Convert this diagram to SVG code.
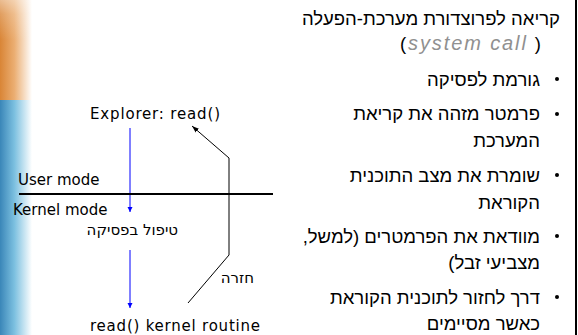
<svg xmlns="http://www.w3.org/2000/svg" width="578" height="335" viewBox="0 0 578 335">
<defs>
<style>
.lt{font-family:"DejaVu Sans",Verdana,sans-serif;font-size:15px;fill:#000}
.hb{font-family:"Liberation Sans",Arial,sans-serif;font-size:18.5px;fill:#000}
.blue{stroke:#0000FF;stroke-width:1;fill:none}
.blk{stroke:#000;stroke-width:1;fill:none}
</style>
<linearGradient id="gO" x1="0" y1="0" x2="1" y2="0">
<stop offset="0" stop-color="#D98536"/>
<stop offset="0.45" stop-color="#EBAE72"/>
<stop offset="1" stop-color="#FFFFFF"/>
</linearGradient>
<linearGradient id="gB" x1="0" y1="0" x2="1" y2="0">
<stop offset="0" stop-color="#3A86B8"/>
<stop offset="0.45" stop-color="#7CC0E0"/>
<stop offset="1" stop-color="#FFFFFF"/>
</linearGradient>
<linearGradient id="gV" x1="0" y1="0" x2="0" y2="1">
<stop offset="0" stop-color="#FFFFFF" stop-opacity="0.45"/>
<stop offset="0.35" stop-color="#FFFFFF" stop-opacity="0.2"/>
<stop offset="1" stop-color="#FFFFFF" stop-opacity="0"/>
</linearGradient>
<marker id="aB" markerWidth="6" markerHeight="6" refX="5" refY="3" orient="auto" markerUnits="userSpaceOnUse">
<path d="M0,0.5 L5,3 L0,5.5 Z" fill="#0000FF"/>
</marker>
<marker id="aK" markerWidth="8" markerHeight="8" refX="7" refY="4" orient="auto" markerUnits="userSpaceOnUse">
<path d="M0,1.5 L7,4 L0,6.5 Z" fill="#000"/>
</marker>
</defs>
<rect width="578" height="335" fill="#FFFFFF"/>
<g id="background">
<rect x="0" y="0" width="32" height="100" fill="url(#gO)"/>
<rect x="0" y="0" width="32" height="40" fill="url(#gV)"/>
<rect x="0" y="100" width="32" height="235" fill="url(#gB)"/>
<line x1="576" y1="0" x2="576" y2="335" stroke="#000" stroke-width="2"/>
</g>
<g id="connectors">
<line class="blue" x1="130" y1="128" x2="130" y2="212" marker-end="url(#aB)"/>
<line class="blue" x1="130" y1="250" x2="130" y2="308" marker-end="url(#aB)"/>
<line x1="19" y1="194" x2="273" y2="194" stroke="#000" stroke-width="2"/>
<polyline class="blk" points="188,303 229,255 229,158 192,126" marker-end="url(#aK)"/>
</g>
<g id="node-explorer"><text class="lt" x="90" y="119" textLength="130" lengthAdjust="spacing">Explorer: read()</text></g>
<g id="node-user-mode"><text class="lt" x="18" y="185">User mode</text></g>
<g id="node-kernel-mode"><text class="lt" x="13" y="215">Kernel mode</text></g>
<g id="node-interrupt"><text class="lt" x="178" y="235" direction="rtl">טיפול בפסיקה</text></g>
<g id="node-return"><text class="lt" x="254" y="283" direction="rtl">חזרה</text></g>
<g id="node-kernel-routine"><text class="lt" x="90" y="331" textLength="170" lengthAdjust="spacing">read() kernel routine</text></g>
<g id="text-panel">
<text class="hb" x="400" y="50" font-size="19" textLength="141" lengthAdjust="spacing">(<tspan fill="#909090" font-style="italic" font-size="20">system call</tspan> )</text>
<text class="hb" x="560" y="25" direction="rtl">קריאה לפרוצדורת מערכת-הפעלה</text>
<g fill="#000">
<circle cx="557" cy="79" r="2"/>
<circle cx="557" cy="114" r="2"/>
<circle cx="557" cy="175" r="2"/>
<circle cx="557" cy="236" r="2"/>
<circle cx="557" cy="297" r="2"/>
</g>
<text class="hb" x="540" y="86" direction="rtl">גורמת לפסיקה</text>
<text class="hb" x="540" y="120" direction="rtl">פרמטר מזהה את קריאת</text>
<text class="hb" x="540" y="147" direction="rtl">המערכת</text>
<text class="hb" x="540" y="182" direction="rtl">שומרת את מצב התוכנית</text>
<text class="hb" x="540" y="209" direction="rtl">הקוראת</text>
<text class="hb" x="540" y="243" direction="rtl">מוודאת את הפרמטרים (למשל,</text>
<text class="hb" x="540" y="269" direction="rtl">מצביעי זבל)</text>
<text class="hb" x="540" y="304" direction="rtl">דרך לחזור לתוכנית הקוראת</text>
<text class="hb" x="540" y="330" direction="rtl">כאשר מסיימים</text>
</g>
</svg>
